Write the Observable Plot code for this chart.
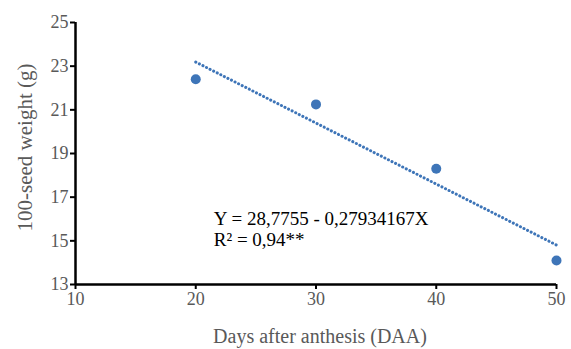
<!DOCTYPE html>
<html><head><meta charset="utf-8">
<script src="https://cdn.jsdelivr.net/npm/d3@7"></script>
<script src="https://cdn.jsdelivr.net/npm/@observablehq/plot@0.6"></script>
<style>body{margin:0;background:#fff}</style>
</head><body><div id="chart"></div>
<script>
const days = [20, 30, 40, 50];
const weights = [22.4, 21.25, 18.3, 14.1];
const xTicks = [10, 20, 30, 40, 50];
const yTicks = [13, 15, 17, 19, 21, 23, 25];
const intercept = 28.7755;
const slope = -0.27934167;
const eqLines = ["Y = 28,7755 - 0,27934167X", "R\u00B2 = 0,94**"];
const xLabel = "Days after anthesis (DAA)";
const yLabel = "100-seed weight (g)";

const pts = days.map((d, i) => ({x: d, y: weights[i]}));
const fit = [days[0], days[days.length - 1]].map(d => ({x: d, y: intercept + slope * d}));
const eq = [{x: 21.5, y: 16.0, t: eqLines[0]}, {x: 21.5, y: 15.05, t: eqLines[1]}];

const chart = Plot.plot({
  width: 571, height: 349,
  marginLeft: 75, marginRight: 15, marginTop: 22, marginBottom: 65,
  style: {fontFamily: "'Liberation Serif', 'Times New Roman', serif", background: "#fff"},
  x: {domain: [10, 50]},
  y: {domain: [13, 25]},
  marks: [
    Plot.axisX({ticks: xTicks, tickSize: 5, stroke: "black", strokeWidth: 2, fill: "#595959", fontSize: 18, tickPadding: 3, label: null, tickFormat: d => d}),
    Plot.axisY({ticks: yTicks, tickSize: 5, stroke: "black", strokeWidth: 2, fill: "#595959", fontSize: 18, tickPadding: 2, label: null, tickFormat: d => d}),
    Plot.text([xLabel], {frameAnchor: "bottom", text: d => d, lineAnchor: "bottom", dy: 58, dx: 4, fontSize: 20, fill: "#595959"}),
    Plot.text([yLabel], {frameAnchor: "left", textAnchor: "middle", text: d => d, rotate: -90, dx: -50, dy: -6, fontSize: 21, fill: "#595959"}),
    Plot.ruleX([10], {stroke: "black", strokeWidth: 2.5}),
    Plot.ruleY([13], {stroke: "black", strokeWidth: 2.5}),
    Plot.line(fit, {x: "x", y: "y", stroke: "#3e75b8", strokeWidth: 3, strokeDasharray: "0.1,3.9", strokeLinecap: "round"}),
    Plot.dot(pts, {x: "x", y: "y", r: 5, fill: "#3e75b8"}),
    Plot.text(eq, {x: "x", y: "y", text: "t", textAnchor: "start", fontSize: 19, fill: "black"})
  ]
});
document.getElementById("chart").appendChild(chart);
</script>
</body></html>
